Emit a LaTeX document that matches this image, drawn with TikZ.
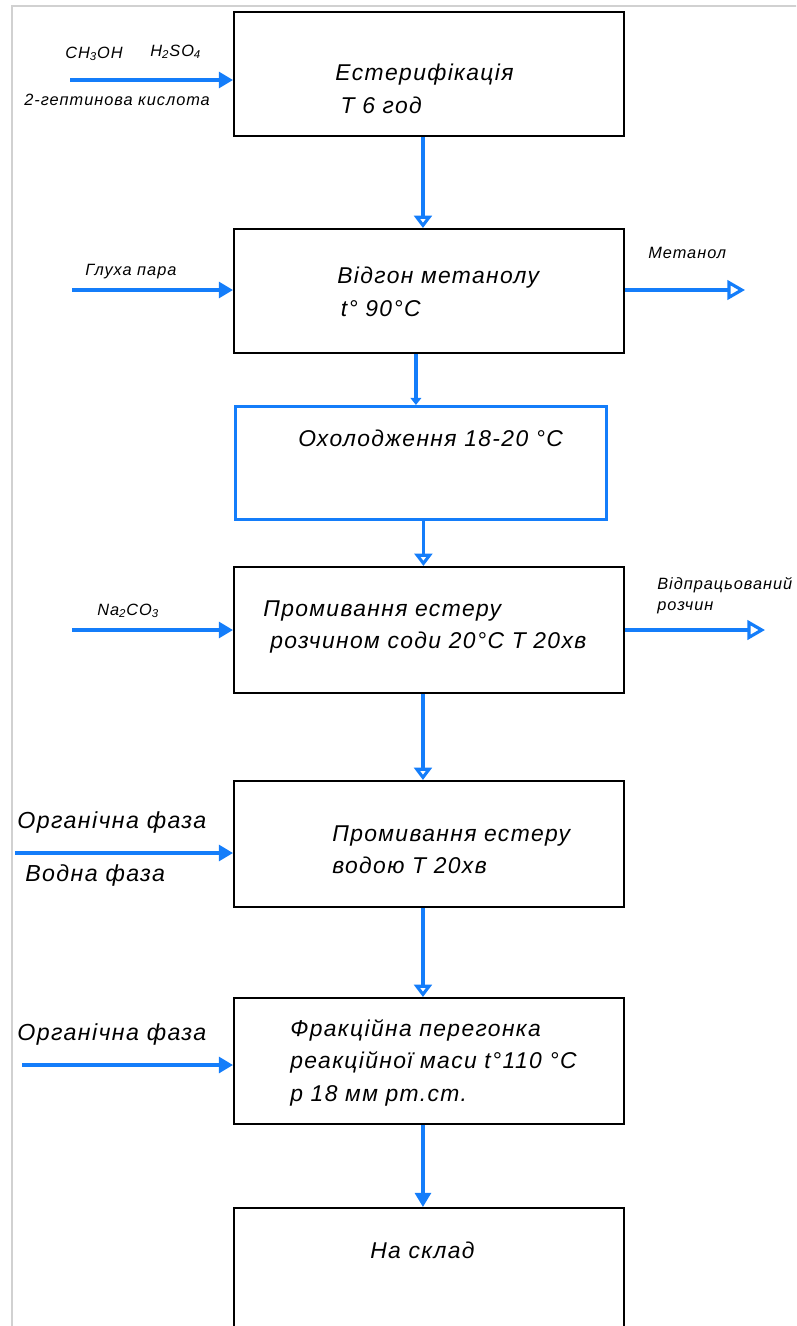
\documentclass[tikz,border=0pt]{standalone}
\usepackage{fontspec}
\setmainfont{Liberation Sans}[LetterSpace=6]
\usetikzlibrary{arrows.meta,calc,positioning}
\definecolor{flowblue}{RGB}{20,125,250}

\begin{document}
\begin{tikzpicture}[
  x=0.02cm, y=-0.02cm,
  proc/.style={rectangle,draw=black,line width=1.1pt,anchor=north west,
    inner sep=0pt,minimum width=7.8cm,minimum height=2.5cm},
  proctext/.style={anchor=north west,inner sep=0pt,align=left,
    font=\itshape\fontsize{13}{18.5}\selectfont},
  small/.style={inner sep=0pt,font=\itshape\fontsize{9.3}{12}\selectfont},
  big/.style={inner sep=0pt,font=\itshape\fontsize{13.2}{15}\selectfont},
  feed/.style={flowblue,line width=1.8pt,-{Triangle[length=8pt,width=9pt]}},
  flow/.style={flowblue,line width=1.8pt,
    -{Triangle[open,length=7pt,width=10pt,fill=white]}},
  outflow/.style={flowblue,line width=1.8pt,
    -{Triangle[open,length=10pt,width=11pt,fill=white]}}
]%
  \useasboundingbox (0,0) rectangle (796,1326);
  \clip (0,0) rectangle (796,1326);

  % Frame
  \draw[black!18,line width=1pt] (12,1330) -- (12,6) -- (800,6);

  % Process boxes
  \node[proc,minimum height=2.48cm] (b1) at (233,11) {};
  \node[proc,minimum height=2.48cm] (b2) at (233,228) {};
  \node[proc,draw=flowblue,line width=1.7pt,minimum width=7.42cm,
    minimum height=2.26cm] (b3) at (234,405) {};
  \node[proc,minimum height=2.52cm] (b4) at (233,566) {};
  \node[proc,minimum height=2.52cm] (b5) at (233,780) {};
  \node[proc,minimum height=2.52cm] (b6) at (233,997) {};
  \node[proc,minimum height=2.9cm] (b7) at (233,1207) {};

  \node[proctext] (t1) at (335,64) {Естерифікація\\\hspace*{3pt}Т 6 год};
  \node[proctext] (t2) at (337,267) {Відгон метанолу\\\hspace*{2pt}t° 90°C};
  \node[proctext] (t3) at (298,430) {Охолодження 18-20 °C};
  \node[proctext] (t4) at (263,600) {Промивання естеру\\\hspace*{4pt}розчином соди 20°C Т 20хв};
  \node[proctext] (t5) at (332,825) {Промивання естеру\\водою Т 20хв};
  \node[proctext] (t6) at (290,1019) {Фракційна перегонка\\реакційної маси t°110 °C\\р 18 мм рт.ст.};
  \node[proctext] (t7) at (370,1242) {На склад};

  % Vertical flow
  \draw[flow] ([xshift=-3.4pt]b1.south) -- ([xshift=-3.4pt]b2.north);
  \draw[flowblue,line width=1.8pt,-{Triangle[length=4pt,width=6pt]}]
    ([xshift=-7.4pt]b2.south) -- ([xshift=-7.4pt]b2.south |- b3.north);
  \draw[flow] ([xshift=1.4pt]b3.south) -- ([xshift=1.4pt]b3.south |- b4.north);
  \draw[flow] ([xshift=-3.4pt]b4.south) -- ([xshift=-3.4pt]b5.north);
  \draw[flow] ([xshift=-3.4pt]b5.south) -- ([xshift=-3.4pt]b6.north);
  \draw[feed] ([xshift=-3.4pt]b6.south) -- ([xshift=-3.4pt]b7.north);

  % Feeds
  \coordinate (in1) at (70,80);
  \coordinate (in2) at (72,290);
  \coordinate (in4) at (72,630);
  \coordinate (in5) at (15,853);
  \coordinate (in6) at (22,1065);
  \draw[feed] (in1) -- (in1 -| b1.west);
  \draw[feed] (in2) -- (in2 -| b2.west);
  \draw[feed] (in4) -- (in4 -| b4.west);
  \draw[feed] (in5) -- (in5 -| b5.west);
  \draw[feed] (in6) -- (in6 -| b6.west);

  % Outputs
  \coordinate (out2) at (745,290);
  \coordinate (out4) at (765,630);
  \draw[outflow] (out2 -| b2.east) -- (out2);
  \draw[outflow] (out4 -| b4.east) -- (out4);

  % Stream labels
  \node[small,anchor=south west] (l1a) at (65,61) {CH\textsubscript{3}OH};
  \node[small,anchor=south west] (l1b) at (150,59) {H\textsubscript{2}SO\textsubscript{4}};
  \node[small,anchor=north west] (l1c) at (24,94) {2-гептинова кислота};
  \node[small,anchor=south west] (l2) at (85,279) {Глуха пара};
  \node[small,anchor=south west] (l2o) at (648,259) {Метанол};
  \node[small,anchor=south west] (l4) at (97,618) {Na\textsubscript{2}CO\textsubscript{3}};
  \node[small,anchor=north west,align=left] (l4o) at (657,577) {Відпрацьований\\розчин};
  \node[big,anchor=south west] (l5a) at (17,834) {Органічна фаза};
  \node[big,anchor=north west] (l5b) at (25,864) {Водна фаза};
  \node[big,anchor=south west] (l6) at (17,1046) {Органічна фаза};
\end{tikzpicture}
\end{document}
